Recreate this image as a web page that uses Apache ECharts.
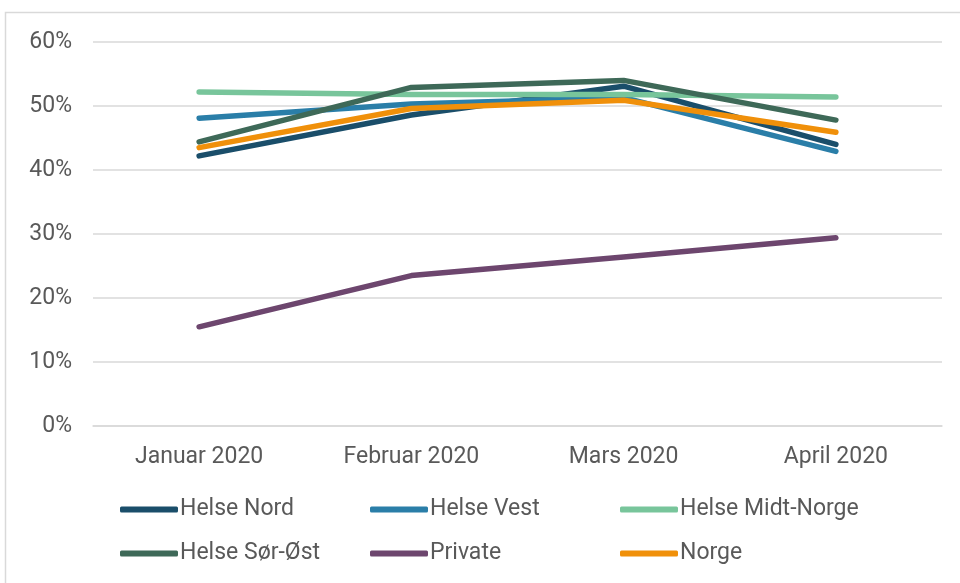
<!doctype html>
<html>
<head>
  <meta charset="utf-8">
  <script src="https://cdn.jsdelivr.net/npm/echarts@6/dist/echarts.min.js"></script>
  <style>
    html, body { margin: 0; padding: 0; background: #fff; }
  </style>
</head>
<body>
  <div id="main" style="width:960px;height:583px;"></div>
  <script>
  var months = ['Januar 2020', 'Februar 2020', 'Mars 2020', 'April 2020'];
  var helseNord = [42.2, 48.6, 53.1, 44.0];
  var helseVest = [48.1, 50.3, 51.3, 42.9];
  var helseMidtNorge = [52.2, 51.8, 51.8, 51.4];
  var helseSorOst = [44.4, 52.9, 54.0, 47.8];
  var privat = [15.5, 23.5, 26.4, 29.4];
  var norge = [43.5, 49.6, 50.9, 45.9];
  var yTicks = [0, 10, 20, 30, 40, 50, 60];

  var names = ['Helse Nord', 'Helse Vest', 'Helse Midt-Norge', 'Helse Sør-Øst', 'Private', 'Norge'];
  var values = [helseNord, helseVest, helseMidtNorge, helseSorOst, privat, norge];
  var colors = ['#1a4e6a', '#2a7ea8', '#78c59b', '#3e6958', '#6d466e', '#f0900a'];
  var legendPos = [[120, 498], [370, 498], [620, 498], [120, 542], [370, 542], [620, 542]];

  var font = 'Roboto, "Liberation Sans", sans-serif';

  var series = [];
  var legends = [];
  for (var i = 0; i < names.length; i++) {
    series.push({
      name: names[i],
      type: 'line',
      symbol: 'none',
      data: values[i],
      color: colors[i],
      lineStyle: { width: 5.5, cap: 'round', join: 'round' }
    });
    legends.push({
      data: [names[i]],
      left: legendPos[i][0],
      top: legendPos[i][1],
      icon: 'roundRect',
      itemWidth: 58,
      itemHeight: 6,
      padding: 0,
      textStyle: { fontFamily: font, fontSize: 23, color: '#595959', padding: [0, 0, 0, -3] }
    });
  }

  var option = {
    animation: false,
    backgroundColor: '#fff',
    graphic: [{
      type: 'rect',
      shape: { x: 5.5, y: 12.5, width: 1000, height: 700 },
      style: { fill: 'none', stroke: '#d9d9d9', lineWidth: 1.5 },
      z: -1
    }],
    grid: { left: 93, right: 18, top: 42, bottom: 157 },
    legend: legends,
    xAxis: {
      type: 'category',
      data: months,
      boundaryGap: true,
      axisLine: { lineStyle: { color: '#d9d9d9', width: 1.5 } },
      axisTick: { show: false },
      axisLabel: { fontFamily: font, fontSize: 23, color: '#595959', margin: 20 }
    },
    yAxis: {
      type: 'value',
      min: yTicks[0],
      max: yTicks[yTicks.length - 1],
      interval: 10,
      axisLine: { show: false },
      axisTick: { show: false },
      splitLine: { lineStyle: { color: '#d9d9d9', width: 1.5 } },
      axisLabel: {
        fontFamily: font, fontSize: 23, color: '#595959', margin: 21,
        formatter: function (v) { return v + '%'; }
      }
    },
    series: series
  };

  var myChart = echarts.init(document.getElementById('main'));
  myChart.setOption(option);
  </script>
</body>
</html>
